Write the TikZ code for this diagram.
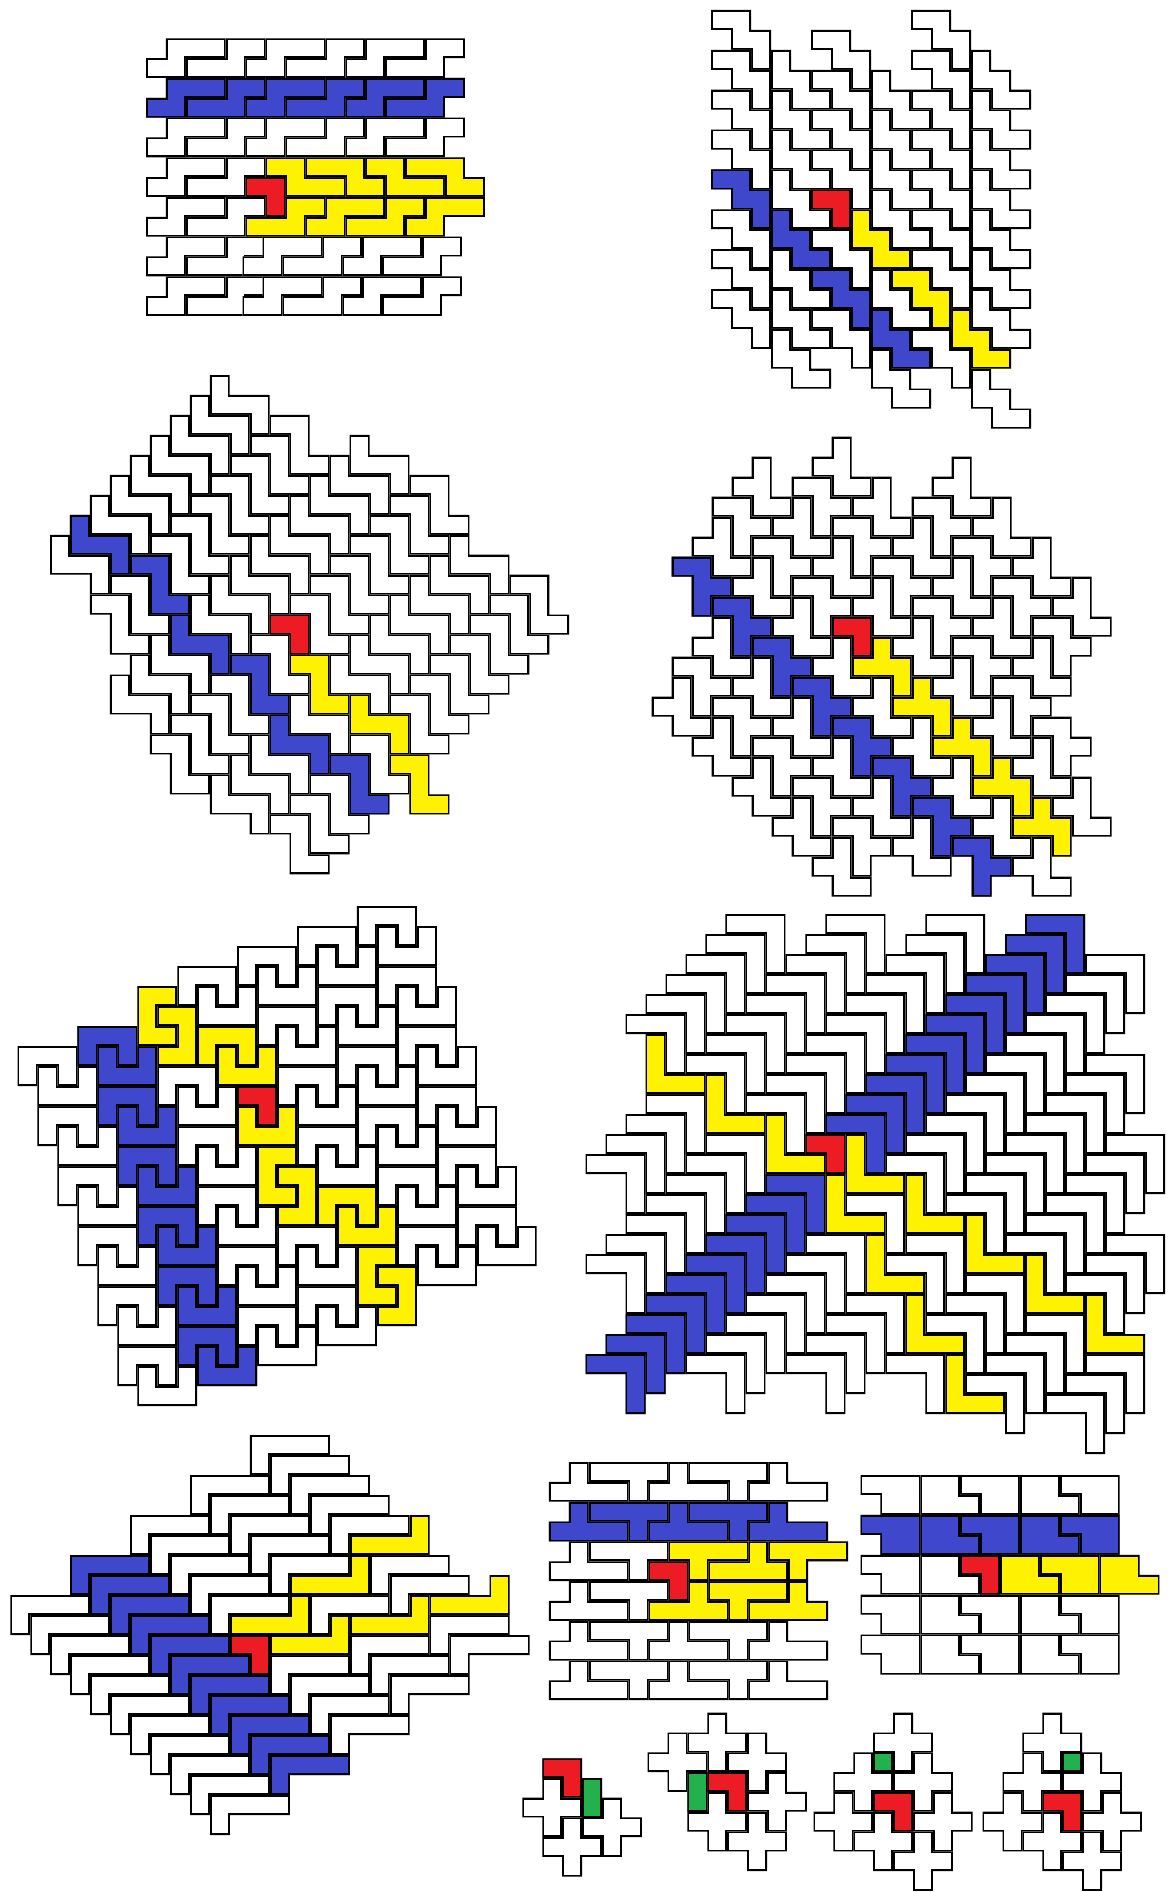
\documentclass[tikz,border=0pt]{standalone}
\definecolor{tblue}{RGB}{63,72,204}
\definecolor{tyellow}{RGB}{255,242,0}
\definecolor{tred}{RGB}{237,28,36}
\definecolor{tgreen}{RGB}{34,177,76}
\tikzset{edge/.style={draw=black,line width=3.6pt,line join=miter,miter limit=4}}
% a tile: its stroke is clipped to itself, so shared edges read twice as thick as outer ones
\newcommand\tile[4]{\begin{scope}[shift={(#2,#3)}]\clip #4;\fill[#1] #4;\draw[edge] #4;\end{scope}}
\newcommand\tiles[3]{\foreach \a/\b in {#3} {\tile{#1}{\a}{\b}{#2}}}
% shapes
\newcommand\shR{(0,0)--(2,0)--(2,2)--(1,2)--(1,1)--(0,1)--cycle}
\newcommand\shA{(1,0)--(4,0)--(4,1)--(2,1)--(2,2)--(0,2)--(0,1)--(1,1)--cycle}
\newcommand\shB{(4,0)--(6,0)--(6,1)--(5,1)--(5,2)--(2,2)--(2,1)--(4,1)--cycle}
\newcommand\shC{(0,0)--(2,0)--(2,1)--(4,1)--(4,2)--(1,2)--(1,1)--(0,1)--cycle}
\newcommand\shD{(0,0)--(3,0)--(3,1)--(4,1)--(4,2)--(2,2)--(2,1)--(0,1)--cycle}
\newcommand\shE{(0,0)--(2,0)--(2,1)--(3,1)--(3,3)--(2,3)--(2,2)--(1,2)--(1,1)--(0,1)--cycle}
\newcommand\shF{(0,0)--(1,0)--(1,1)--(2,1)--(2,2)--(3,2)--(3,3)--(1,3)--(1,2)--(0,2)--cycle}
\newcommand\shG{(0,0)--(1,0)--(1,1)--(3,1)--(3,3)--(2,3)--(2,2)--(0,2)--cycle}
\newcommand\shH{(0,0)--(2,0)--(2,2)--(3,2)--(3,3)--(1,3)--(1,1)--(0,1)--cycle}
\newcommand\shJ{(1,0)--(2,0)--(2,2)--(3,2)--(3,3)--(1,3)--(1,2)--(0,2)--(0,1)--(1,1)--cycle}
\newcommand\shK{(0,0)--(2,0)--(2,1)--(3,1)--(3,2)--(2,2)--(2,3)--(1,3)--(1,1)--(0,1)--cycle}
\newcommand\shM{(1,0)--(2,0)--(2,1)--(3,1)--(3,3)--(2,3)--(2,2)--(0,2)--(0,1)--(1,1)--cycle}
\newcommand\shP{(0,0)--(3,0)--(3,2)--(2,2)--(2,1)--(1,1)--(1,2)--(0,2)--cycle}
\newcommand\shQ{(0,0)--(1,0)--(1,1)--(2,1)--(2,0)--(3,0)--(3,2)--(0,2)--cycle}
\newcommand\shS{(0,0)--(2,0)--(2,1)--(1,1)--(1,2)--(2,2)--(2,3)--(0,3)--cycle}
\newcommand\shT{(0,0)--(2,0)--(2,3)--(0,3)--(0,2)--(1,2)--(1,1)--(0,1)--cycle}
\newcommand\shV{(0,0)--(3,0)--(3,3)--(2,3)--(2,1)--(0,1)--cycle}
\newcommand\shW{(0,0)--(1,0)--(1,2)--(3,2)--(3,3)--(0,3)--cycle}
\newcommand\shX{(0,0)--(4,0)--(4,1)--(1,1)--(1,2)--(0,2)--cycle}
\newcommand\shY{(3,0)--(4,0)--(4,2)--(0,2)--(0,1)--(3,1)--cycle}
\newcommand\shUa{(1,0)--(2,0)--(2,1)--(4,1)--(4,2)--(0,2)--(0,1)--(1,1)--cycle}
\newcommand\shUb{(2,0)--(6,0)--(6,1)--(5,1)--(5,2)--(4,2)--(4,1)--(2,1)--cycle}
\newcommand\shUc{(0,0)--(4,0)--(4,1)--(2,1)--(2,2)--(1,2)--(1,1)--(0,1)--cycle}
\newcommand\shUd{(2,0)--(3,0)--(3,1)--(4,1)--(4,2)--(0,2)--(0,1)--(2,1)--cycle}
\newcommand\shZa{(0,0)--(3,0)--(3,2)--(1,2)--(1,1)--(0,1)--cycle}
\newcommand\shZb{(0,0)--(2,0)--(2,1)--(3,1)--(3,2)--(0,2)--cycle}
\newcommand\shPlus{(1,0)--(2,0)--(2,1)--(3,1)--(3,2)--(2,2)--(2,3)--(1,3)--(1,2)--(0,2)--(0,1)--(1,1)--cycle}
\newcommand\shGr{(0,0)--(1,0)--(1,2)--(0,2)--cycle}
\newcommand\shGs{(0,0)--(1,0)--(1,1)--(0,1)--cycle}
\begin{document}
\begin{tikzpicture}
\useasboundingbox (0pt,0pt) rectangle (1169pt,-1892pt);
\fill[white] (0pt,0pt) rectangle (1169pt,-1892pt);
% panel 1
\begin{scope}[shift={(146pt,-38.3pt)},x=19.93pt,y=-19.83pt]
\tiles{white}{\shA}{0/0,5/0,10/0,0/4,5/4,10/4,0/6,0/8}
\tiles{white}{\shB}{0/0,5/0,10/0,0/4,5/4,10/4,0/6,0/8}
\tiles{tblue}{\shA}{0/2,5/2,10/2}
\tiles{tblue}{\shB}{0/2,5/2,10/2}
\tile{white}{0}{10}{\shA}\tile{white}{0}{10}{\shB}\tile{white}{4.85}{10}{\shA}\tile{white}{4.85}{10}{\shB}\tile{white}{9.85}{10}{\shA}\tile{white}{9.85}{10}{\shB}
\tile{white}{0}{12}{\shA}\tile{white}{0}{12}{\shB}\tile{white}{4.85}{12}{\shA}\tile{white}{4.85}{12}{\shB}\tile{white}{9.85}{12}{\shA}\tile{white}{9.85}{12}{\shB}
\tiles{tyellow}{\shC}{6/6,11/6}
\tiles{tyellow}{\shD}{8/6,13/6}
\tiles{tyellow}{\shB}{3/8,8/8}
\tiles{tyellow}{\shA}{8/8,13/8}
\tile{tred}{5}{7}{\shR}
\end{scope}
% panel 2
\begin{scope}[shift={(711pt,-10pt)},x=20pt,y=-19.93pt]
\tiles{white}{\shE}{0/0,0/2,0/4,0/6,0/10,0/12,0/14,5/1,5/3,5/5,5/7,5/11,5/15,10/0,10/2,10/4,10/6,10/8,10/10,10/12,10/16}
\tiles{white}{\shF}{3/2,3/4,3/6,3/8,3/12,3/14,3/16,8/3,8/5,8/7,8/9,8/13,8/17,13/2,13/4,13/6,13/8,13/10,13/12,13/14,13/18}
\tiles{tblue}{\shE}{0/8,5/13}
\tiles{tblue}{\shF}{3/10,8/15}
\tiles{tyellow}{\shF}{7/10,12/15}
\tiles{tyellow}{\shE}{9/13}
\tile{tred}{5}{9}{\shR}
\end{scope}
% panel 3
\begin{scope}[shift={(50pt,-375pt)},x=19.97pt,y=-19.97pt]
\tiles{white}{\shG}{8/0,7/1,6/2,5/3,4/4,3/5,2/6,0/8,15/3,14/4,13/5,12/6,11/7,10/8,9/9,8/10,7/11,5/13,4/14,3/15,20/8,19/9,18/10,17/11,16/12,15/13,14/14,12/16,10/18,9/19,8/20}
\tiles{white}{\shH}{11/2,10/3,9/4,8/5,7/6,6/7,5/8,3/10,2/11,18/5,17/6,16/7,15/8,14/9,13/10,12/11,10/13,8/15,7/16,6/17,5/18,23/10,22/11,21/12,20/13,19/14,18/15,17/16,15/18,13/20,12/21,11/22}
\tiles{tblue}{\shG}{1/7,6/12,11/17}
\tiles{tblue}{\shH}{4/9,9/14,14/19}
\tiles{tyellow}{\shH}{12/14,17/19}
\tiles{tyellow}{\shG}{15/16}
\tile{tred}{11}{12}{\shR}
\end{scope}
% panel 4
\begin{scope}[shift={(651.7pt,-436.7pt)},x=20pt,y=-20pt]
\tiles{white}{\shJ}{2/4,4/6,6/8,8/10,10/12,12/14,14/16,16/18,18/20,4/1,6/3,8/5,10/7,12/9,14/11,16/13,18/15,20/17,8/0,10/2,12/4,14/6,16/8,18/10,14/1,16/3,18/5,20/7,2/9,4/11,6/13,8/15,10/17,12/19,0/12,2/14,4/16,6/18,8/20}
\tiles{white}{\shK}{3/3,5/5,7/7,7/2,9/4,11/6,13/8,15/10,17/12,19/14,13/3,15/5,17/7,19/9,1/11,3/13,5/15,7/17,9/19}
\tiles{tblue}{\shK}{1/6,3/8,5/10,7/12,9/14,11/16,13/18,15/20}
\tiles{tyellow}{\shM}{10/10,12/12,14/14,16/16,18/18}
\tile{tred}{9}{9}{\shR}
\end{scope}
% panel 5
\begin{scope}[shift={(17.5pt,-906pt)},x=19.97pt,y=-20pt]
\tiles{white}{\shP}{17/0,18/3,19/6,20/9,21/12,22/15,14/1,15/4,16/7,17/10,18/13,19/16,11/2,12/5,13/8,14/11,8/3,7/8,8/11,9/14,10/17,11/20,13/16,14/19,0/7,1/10,2/13,3/16,4/19,5/22}
\tiles{white}{\shQ}{18/1,19/4,20/7,21/10,22/13,23/16,15/2,16/5,17/8,18/11,19/14,20/17,12/3,13/6,14/9,15/12,9/4,8/9,9/12,10/15,11/18,12/21,14/17,15/20,1/8,2/11,3/14,4/17,5/20,6/23}
\tiles{tblue}{\shP}{3/6,4/9,5/12,6/15,7/18,8/21}
\tiles{tblue}{\shQ}{4/7,5/10,6/13,7/16,8/19,9/22}
\tiles{tyellow}{\shS}{6/4,12/12,17/17}
\tiles{tyellow}{\shT}{7/5,13/13,18/18}
\tiles{tyellow}{\shP}{9/6,15/14}
\tiles{tyellow}{\shQ}{10/7,11/10,16/15}
\tile{tred}{11}{9}{\shR}
\end{scope}
% panel 6
\begin{scope}[shift={(585.6pt,-914pt)},x=19.98pt,y=-20pt]
\tiles{white}{\shV}{7/0,6/1,5/2,4/3,3/4,2/5,12/0,11/1,10/2,9/3,8/4,7/5,6/6,5/7,3/9,2/10,1/11,0/12,17/0,16/1,15/2,14/3,13/4,12/5,11/6,10/7,9/8,8/9,6/11,5/12,4/13,3/14,2/15,1/16,0/17,25/2,24/3,23/4,22/5,21/6,20/7,19/8,18/9,17/10,16/11,15/12,13/14,11/16,10/17,9/18,8/19,7/20,6/21,5/22,25/7,24/8,23/9,22/10,21/11,20/12,19/13,18/14,16/16,15/17,13/19,12/20,11/21,10/22,26/11,25/12,24/13,23/14,22/15,21/16,19/18,18/19,17/20,15/22,26/16,25/17,24/18,22/20,21/21,20/22,19/23,25/22,24/23,23/24}
\tiles{tblue}{\shV}{22/0,21/1,20/2,19/3,18/4,17/5,16/6,15/7,14/8,13/9,12/10,9/13,8/14,7/15,6/16,5/17,4/18,3/19,2/20,1/21,0/22}
\tiles{tyellow}{\shW}{3/6,6/8,9/10,13/11,16/13,19/15,22/17,25/19,12/13,14/16,16/19,18/22}
\tile{tred}{11}{11}{\shR}
\end{scope}
% panel 7
\begin{scope}[shift={(10.3pt,-1435pt)},x=19.97pt,y=-20pt]
\tiles{white}{\shX}{12/0,13/1,14/2,15/3,16/4,9/2,10/3,11/4,12/5,13/6,6/4,7/5,8/6,9/7,10/8,0/8,1/9,2/10,3/11,4/12,5/13,6/14,7/15,8/16,9/17,10/18,15/8,18/6,19/7,21/9,22/10,17/10,18/11,19/12,13/11,14/12,15/13,16/14}
\tiles{tblue}{\shX}{3/6,4/7,5/8,6/9,7/10,8/11,9/12,10/13,11/14,12/15,13/16}
\tiles{tyellow}{\shY}{17/4,14/6,11/8,13/9,17/8,21/7}
\tile{tred}{11}{10}{\shR}
\end{scope}
% panel 8
\begin{scope}[shift={(548.8pt,-1462pt)},x=19.95pt,y=-19.85pt]
\tiles{white}{\shUa}{0/0,5/0,10/0,0/4,0/6,0/8,5/8,10/8,0/10,5/10,10/10}
\tiles{white}{\shUb}{0/0,5/0,0/4,0/6,0/8,5/8,0/10,5/10}
\tiles{tblue}{\shUa}{0/2,5/2,10/2}
\tiles{tblue}{\shUb}{0/2,5/2}
\tiles{tyellow}{\shUc}{6/4,11/4,8/6}
\tiles{tyellow}{\shUd}{8/4,5/6,10/6}
\tile{tred}{5}{5}{\shR}
\end{scope}
% panel 9
\begin{scope}[shift={(860.5pt,-1475pt)},x=19.93pt,y=-19.95pt]
\tiles{white}{\shZa}{0/0,5/0,10/0,0/4,0/6,5/6,10/6,0/8,5/8,10/8}
\tiles{white}{\shZb}{3/0,8/0,3/4,3/6,8/6,3/8,8/8}
\tiles{tblue}{\shZa}{0/2,5/2,10/2}
\tiles{tblue}{\shZb}{3/2,8/2}
\tiles{tyellow}{\shZb}{7/4,12/4}
\tiles{tyellow}{\shZa}{9/4}
\tile{tred}{5}{4}{\shR}
\end{scope}
% panel 10
\begin{scope}[shift={(522.4pt,-1758.3pt)},x=19.9pt,y=-19.7pt]
\tiles{white}{\shPlus}{0/1,3/2,1/3}
\tile{tred}{1}{0}{\shR}
\tile{tgreen}{3}{1}{\shGr}
\end{scope}
% panel 11
\begin{scope}[shift={(647.6pt,-1712.7pt)},x=19.9pt,y=-19.8pt]
\tiles{white}{\shPlus}{2/0,0/1,4/1,5/3,2/4,4/5}
\tile{tred}{3}{3}{\shR}
\tile{tgreen}{2}{3}{\shGr}
\end{scope}
% panel 12
\begin{scope}[shift={(813.5pt,-1712.7pt)},x=19.9pt,y=-19.8pt]
\tiles{white}{\shPlus}{3/0,1/2,4/2,0/4,5/4,2/5,4/6}
\tile{tred}{3}{4}{\shR}
\tile{tgreen}{3}{2}{\shGs}
\end{scope}
% panel 13
\begin{scope}[shift={(982.6pt,-1712.7pt)},x=19.9pt,y=-19.8pt]
\tiles{white}{\shPlus}{2/0,1/2,4/2,0/4,5/4,2/5,4/6}
\tile{tred}{3}{4}{\shR}
\tile{tgreen}{4}{2}{\shGs}
\end{scope}
\end{tikzpicture}
\end{document}
